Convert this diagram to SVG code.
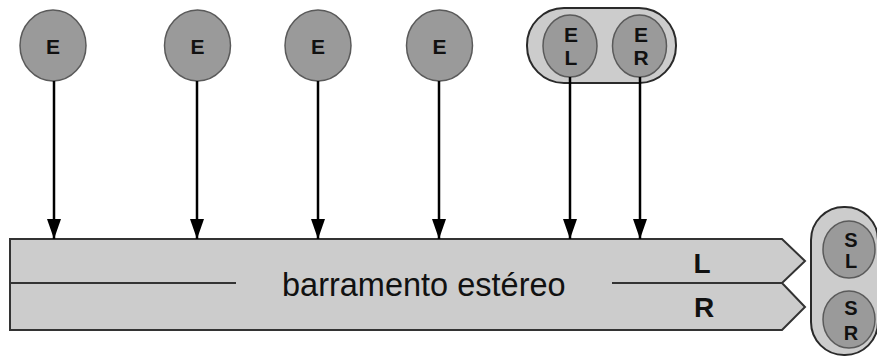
<svg xmlns="http://www.w3.org/2000/svg" width="877" height="359" viewBox="0 0 877 359">
<defs>
<style>
.src{fill:#9a9a9a;stroke:#5a5a5a;stroke-width:1.5}
.grp{fill:#cccccc;stroke:#2a2a2a;stroke-width:2}
.bus{fill:#cccccc;stroke:#333333;stroke-width:2}
.lbl{font-family:"Liberation Sans",Arial,sans-serif;font-weight:bold;fill:#111;text-anchor:middle}
.con{stroke:#000;stroke-width:2.5;fill:none}
</style>
<marker id="ah" viewBox="0 0 20 14" refX="20" refY="7" markerWidth="20" markerHeight="14" markerUnits="userSpaceOnUse" orient="auto" overflow="visible">
<path d="M0,0 L20,7 L0,14 z" fill="#000"/>
</marker>
</defs>
<g id="bus">
<path class="bus" d="M10,239 L782,239 L805,261 L782,283 L805,307 L782,330 L10,330 Z"/>
<line x1="10" y1="283" x2="236" y2="283" stroke="#333" stroke-width="2"/>
<line x1="612" y1="283" x2="782" y2="283" stroke="#333" stroke-width="2"/>
<text x="282" y="296" font-family="'Liberation Sans',Arial,sans-serif" font-size="32.5" fill="#111">barramento estéreo</text>
<text class="lbl" x="702" y="273" font-size="28">L</text>
<text class="lbl" x="704" y="317" font-size="28">R</text>
</g>
<g id="e1"><ellipse class="src" cx="53" cy="45.5" rx="33" ry="35.5"/><text class="lbl" x="53" y="54" font-size="21">E</text></g>
<g id="e2"><ellipse class="src" cx="197.5" cy="45.5" rx="33" ry="35.5"/><text class="lbl" x="197.5" y="54" font-size="21">E</text></g>
<g id="e3"><ellipse class="src" cx="318" cy="45.5" rx="33" ry="35.5"/><text class="lbl" x="318" y="54" font-size="21">E</text></g>
<g id="e4"><ellipse class="src" cx="439.5" cy="45.5" rx="33" ry="35.5"/><text class="lbl" x="439.5" y="54" font-size="21">E</text></g>
<g id="estereo-in">
<rect class="grp" x="527" y="8" width="149" height="75" rx="37" ry="37"/>
<ellipse class="src" cx="570" cy="46" rx="27" ry="31"/>
<text class="lbl" x="571" y="42" font-size="21">E</text>
<text class="lbl" x="571" y="65" font-size="21">L</text>
<ellipse class="src" cx="639.5" cy="46" rx="27" ry="31"/>
<text class="lbl" x="641" y="42" font-size="21">E</text>
<text class="lbl" x="641" y="65" font-size="21">R</text>
</g>
<g id="estereo-out">
<rect class="grp" x="811" y="207" width="67" height="148" rx="33" ry="33"/>
<ellipse class="src" cx="849" cy="249.5" rx="26" ry="28.5"/>
<text class="lbl" x="851" y="247" font-size="20">S</text>
<text class="lbl" x="851" y="268" font-size="20">L</text>
<ellipse class="src" cx="849" cy="319.5" rx="26" ry="28.5"/>
<text class="lbl" x="851" y="315" font-size="20">S</text>
<text class="lbl" x="851" y="340" font-size="20">R</text>
</g>
<g id="connectors">
<line class="con" x1="54" y1="81" x2="54" y2="239" marker-end="url(#ah)"/>
<line class="con" x1="197" y1="81" x2="197" y2="239" marker-end="url(#ah)"/>
<line class="con" x1="318" y1="81" x2="318" y2="239" marker-end="url(#ah)"/>
<line class="con" x1="439" y1="81" x2="439" y2="239" marker-end="url(#ah)"/>
<line class="con" x1="570" y1="77" x2="570" y2="239" marker-end="url(#ah)"/>
<line class="con" x1="640" y1="77" x2="640" y2="239" marker-end="url(#ah)"/>
</g>
</svg>
